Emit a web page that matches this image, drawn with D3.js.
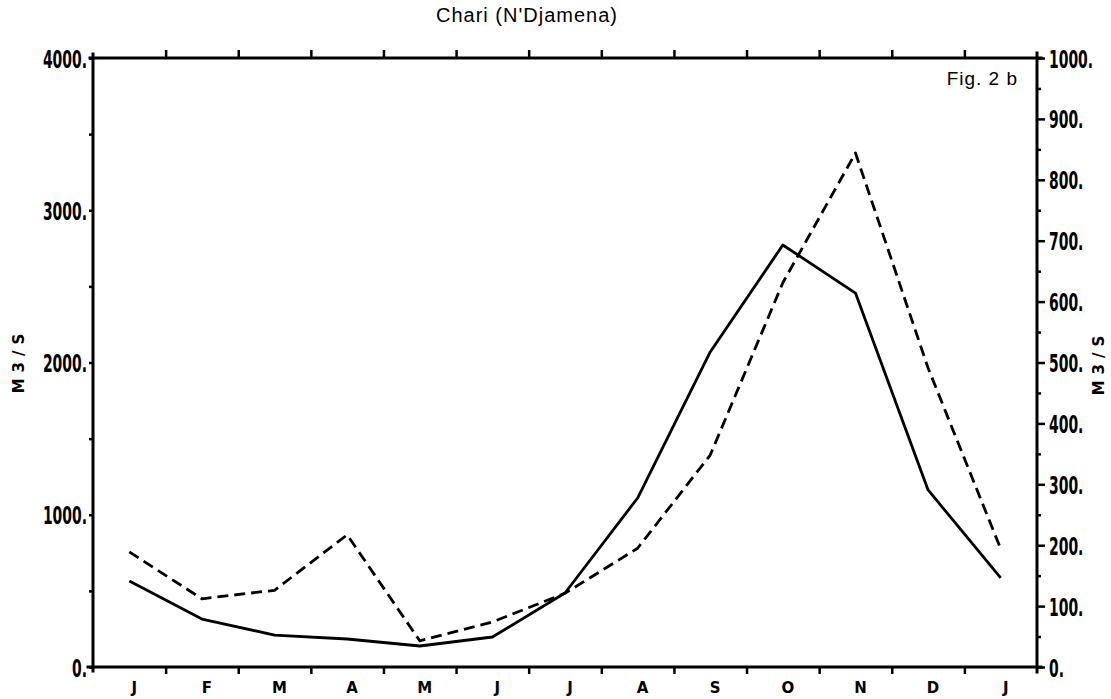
<!DOCTYPE html>
<html>
<head>
<meta charset="utf-8">
<script src="https://cdn.jsdelivr.net/npm/d3@7/dist/d3.min.js"></script>
<style>
  body { margin: 0; background: #fff; }
  svg { display: block; }
  .tick-label { font-family: "DejaVu Sans Condensed", sans-serif; font-weight: bold; font-size: 25px; fill: #000; }
  .month { font-family: "DejaVu Sans", sans-serif; font-weight: bold; font-size: 15px; fill: #000; }
  .unit { font-family: "DejaVu Sans", sans-serif; font-weight: bold; font-size: 15px; letter-spacing: 6px; fill: #000; }
  .title { font-family: "Liberation Sans", Arial, sans-serif; fill: #000; }
</style>
</head>
<body>
<div id="vis"></div>
<script>
// monthly flow, Chari at N'Djamena
var months = ['J', 'F', 'M', 'A', 'M', 'J', 'J', 'A', 'S', 'O', 'N', 'D', 'J'];
var solidFlow = [565, 315, 210, 184, 138, 197, 486, 1110, 2069, 2772, 2456, 1163, 585];   // left axis
var dashedFlow = [189, 112, 126, 217, 43, 74, 121, 195, 348, 631, 844, 491, 194];        // right axis
var leftTicks = [0, 1000, 2000, 3000, 4000];
var leftMinor = [500, 1500, 2500, 3500];
var rightTicks = [0, 100, 200, 300, 400, 500, 600, 700, 800, 900, 1000];
var rightMinor = [50, 150, 250, 350, 450, 550, 650, 750, 850, 950];

var width = 1111,
    height = 699;

var margin = {
    left:   93,
    right:  74,
    top:    58,
    bottom: 32
};

var svg = d3.select('#vis')
            .append('svg')
            .attr('width', width)
            .attr('height', height);

var xScale = d3.scaleLinear()
               .domain([0, months.length])
               .range([margin.left, width - margin.right]);

var yLeft = d3.scaleLinear()
              .domain([0, 4000])
              .range([height - margin.bottom, margin.top]);

var yRight = d3.scaleLinear()
               .domain([0, 1000])
               .range([height - margin.bottom, margin.top]);

var x0 = xScale(0), x1 = xScale(months.length);
var yB = yLeft(0), yT = yLeft(4000);
var yMid = (yB + yT) / 2;

// frame
var frame = svg.append('g')
               .attr('stroke', '#000')
               .attr('stroke-width', 3)
               .attr('stroke-linecap', 'square');
frame.append('line').attr('x1', x0 - 5).attr('y1', yB).attr('x2', x1 + 4).attr('y2', yB);
frame.append('line').attr('x1', x0 - 3).attr('y1', yT).attr('x2', x1 + 4).attr('y2', yT);
frame.append('line').attr('x1', x0).attr('y1', yT - 4).attr('x2', x0).attr('y2', yB + 4);
frame.append('line').attr('x1', x1).attr('y1', yT - 5).attr('x2', x1).attr('y2', yB + 5);

// month ticks, bottom and top
var bandTicks = d3.range(1, months.length);

var bottomAxis = d3.axisBottom(xScale)
                   .tickValues(bandTicks)
                   .tickSize(7)
                   .tickSizeOuter(0)
                   .tickFormat('');
var topAxis = d3.axisTop(xScale)
                .tickValues(bandTicks)
                .tickSize(8)
                .tickSizeOuter(0)
                .tickFormat('');

svg.append('g').attr('class', 'axis')
   .attr('transform', `translate(0, ${yB})`)
   .call(bottomAxis);
svg.append('g').attr('class', 'axis')
   .attr('transform', `translate(0, ${yT})`)
   .call(topAxis);

// left axis
var leftMinorAxis = d3.axisLeft(yLeft).tickValues(leftMinor).tickSize(4).tickSizeOuter(0).tickFormat('');
var leftMajorAxis = d3.axisLeft(yLeft).tickValues(leftTicks).tickSize(4).tickSizeOuter(0)
                      .tickFormat((d) => d + '.');
svg.append('g').attr('class', 'axis')
   .attr('transform', `translate(${x0}, 0)`)
   .call(leftMinorAxis);
svg.append('g').attr('class', 'axis left')
   .attr('transform', `translate(${x0}, 0)`)
   .call(leftMajorAxis);

// right axis
var rightMinorAxis = d3.axisRight(yRight).tickValues(rightMinor).tickSize(4).tickSizeOuter(0).tickFormat('');
var rightMajorAxis = d3.axisRight(yRight).tickValues(rightTicks).tickSize(8).tickSizeOuter(0)
                       .tickFormat((d) => d + '.');
svg.append('g').attr('class', 'axis')
   .attr('transform', `translate(${x1}, 0)`)
   .call(rightMinorAxis);
svg.append('g').attr('class', 'axis right')
   .attr('transform', `translate(${x1}, 0)`)
   .call(rightMajorAxis);

svg.selectAll('.axis .domain').remove();
svg.selectAll('.axis line')
   .attr('stroke', '#000')
   .attr('stroke-width', 2.5);

// squeeze the plotter-style numbers
svg.selectAll('.axis.left text')
   .attr('class', 'tick-label')
   .attr('font-size', null)
   .attr('font-family', null)
   .attr('x', 0)
   .attr('dy', '0.36em')
   .attr('transform', 'translate(-6, 0) scale(0.62, 1)');

svg.selectAll('.axis.right text')
   .attr('class', 'tick-label')
   .attr('font-size', null)
   .attr('font-family', null)
   .attr('x', 0)
   .attr('dy', '0.36em')
   .attr('transform', 'translate(12, 0) scale(0.62, 1)');

// month labels
svg.append('g')
   .selectAll('text')
   .data(months)
   .enter()
   .append('text')
   .attr('class', 'month')
   .attr('x', (d, i) => xScale(i + 0.5) + 5)
   .attr('y', yB + 26)
   .attr('text-anchor', 'middle')
   .text((d) => d);

// series
var solidLine = d3.line()
                  .x((d, i) => xScale(i + 0.5))
                  .y((d) => yLeft(d));
var dashedLine = d3.line()
                   .x((d, i) => xScale(i + 0.5))
                   .y((d) => yRight(d));

svg.append('path')
   .datum(solidFlow)
   .attr('d', solidLine)
   .attr('fill', 'none')
   .attr('stroke', '#000')
   .attr('stroke-width', 2.8)
   .attr('stroke-linejoin', 'round');

svg.append('path')
   .datum(dashedFlow)
   .attr('d', dashedLine)
   .attr('fill', 'none')
   .attr('stroke', '#000')
   .attr('stroke-width', 2.8)
   .style('stroke-dasharray', '11, 6')
   .attr('stroke-linejoin', 'round');

// unit labels
svg.append('text')
   .attr('class', 'unit')
   .attr('transform', `translate(24, ${yMid - 2}) rotate(-90)`)
   .attr('text-anchor', 'middle')
   .text('M3/S');

svg.append('text')
   .attr('class', 'unit')
   .attr('transform', `translate(1104, ${yMid}) rotate(-90)`)
   .attr('text-anchor', 'middle')
   .text('M3/S');

// titles
svg.append('text')
   .attr('class', 'title')
   .attr('x', 527)
   .attr('y', 22)
   .attr('text-anchor', 'middle')
   .style('font-size', '20px')
   .style('letter-spacing', '1px')
   .text("Chari (N'Djamena)");

svg.append('text')
   .attr('class', 'title')
   .attr('x', x1 - 19)
   .attr('y', 85)
   .attr('text-anchor', 'end')
   .style('font-size', '19px')
   .style('letter-spacing', '1px')
   .text('Fig. 2 b');
</script>
</body>
</html>
